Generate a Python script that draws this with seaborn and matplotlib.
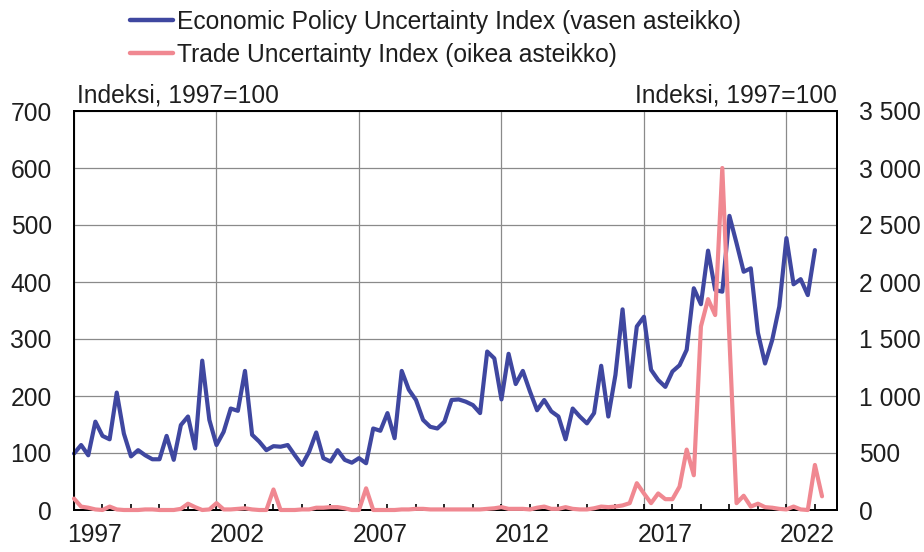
import numpy as np
import pandas as pd
import seaborn as sns
import matplotlib
matplotlib.use("Agg")
import matplotlib.pyplot as plt
from matplotlib.ticker import MultipleLocator, FixedLocator, FuncFormatter
from matplotlib.transforms import ScaledTranslation

# ---------------- data (quarterly, from 1997Q1) ----------------
START_YEAR = 1997
EPU_LABEL = "Economic Policy Uncertainty Index (vasen asteikko)"
TUI_LABEL = "Trade Uncertainty Index (oikea asteikko)"

epu = [
    99, 114, 96, 155, 130, 124, 206, 134, 94, 105, 96, 89, 89, 130, 88, 149,
    164, 108, 262, 158, 114, 137, 178, 174, 244, 132, 120, 105, 112, 111, 114, 96,
    79, 102, 136, 91, 85, 105, 88, 83, 91, 82, 143, 139, 170, 126, 244, 211,
    193, 158, 146, 143, 155, 193, 194, 190, 184, 170, 278, 266, 194, 274, 221, 244,
    208, 175, 193, 173, 164, 124, 178, 164, 152, 170, 253, 164, 237, 352, 216, 322,
    339, 246, 228, 216, 243, 254, 281, 389, 361, 455, 386, 383, 516, 468, 418, 424,
    311, 257, 298, 357, 477, 396, 405, 377, 456,
]

tui = [
    100, 30, 20, 5, 0, 30, 5, 0, 0, 0, 5, 5, 0, 0, 0, 10,
    55, 25, 0, 5, 60, 5, 5, 10, 15, 5, 0, 0, 180, 0, 0, 0,
    5, 5, 20, 20, 25, 25, 15, 0, 0, 190, 0, 0, 0, 0, 5, 5,
    10, 10, 5, 5, 5, 5, 5, 5, 5, 5, 10, 15, 25, 10, 10, 10,
    5, 20, 30, 10, 10, 25, 10, 5, 5, 15, 30, 25, 30, 40, 60, 235,
    145, 60, 145, 95, 95, 205, 530, 305, 1610, 1850, 1710, 3000, 1500, 60, 125, 30,
    55, 25, 20, 10, 5, 30, 5, 0, 395, 120,
]

year_ticks = [1997, 2002, 2007, 2012, 2017, 2022]
left_ticks = [0, 100, 200, 300, 400, 500, 600, 700]
right_ticks = [0, 500, 1000, 1500, 2000, 2500, 3000, 3500]

BLUE = "#3f47a0"
PINK = "#f08891"

df_epu = pd.DataFrame({"t": START_YEAR + np.arange(len(epu)) / 4, "v": epu})
df_tui = pd.DataFrame({"t": START_YEAR + np.arange(len(tui)) / 4, "v": tui})

# ---------------- plot ----------------
sns.set_theme(style="white")
plt.rcParams["font.family"] = ["Liberation Sans", "DejaVu Sans"]
plt.rcParams["axes.unicode_minus"] = False
FS = 17.7

fig = plt.figure(figsize=(9.24, 5.52), dpi=100)
ax = fig.add_axes([74 / 924, 1 - 510 / 552, (837 - 74) / 924, (510 - 111) / 552])
ax2 = ax.twinx()

sns.lineplot(data=df_epu, x="t", y="v", ax=ax, color=BLUE, lw=3.0,
             label=EPU_LABEL, legend=False, clip_on=False, zorder=3)
sns.lineplot(data=df_tui, x="t", y="v", ax=ax2, color=PINK, lw=3.0,
             label=TUI_LABEL, legend=False, clip_on=False, zorder=3)

ax.set_xlim(START_YEAR, START_YEAR + 107.1 / 4)
ax.set_ylim(0, 700)
ax2.set_ylim(0, 3500)

ax.xaxis.set_major_locator(FixedLocator(year_ticks))
ax.xaxis.set_minor_locator(MultipleLocator(1))
ax.set_xticks(year_ticks)
ax.set_xticklabels([str(y) for y in year_ticks])
ax.set_yticks(left_ticks)
ax.set_yticklabels([str(v) for v in left_ticks])
ax2.set_yticks(right_ticks)
ax2.yaxis.set_major_formatter(FuncFormatter(lambda v, p: f"{v:,.0f}".replace(",", " ")))

ax.grid(True, which="major", color="#8a8a8a", lw=0.9)
ax.set_axisbelow(True)
ax.tick_params(axis="x", which="both", direction="in", length=4, width=1.2,
               color="black", bottom=True, labelsize=FS, pad=9, labelcolor="#1e1e1e")
ax.tick_params(axis="y", length=0, labelsize=FS, pad=16, labelcolor="#1e1e1e")
ax2.tick_params(axis="y", length=0, labelsize=FS, pad=16, labelcolor="#1e1e1e")
ax.set_xlabel("")
ax.set_ylabel("")
ax2.set_ylabel("")

# year labels sit in the middle of the year
for lab in ax.get_xticklabels():
    lab.set_transform(lab.get_transform() + ScaledTranslation(0.21, 0, fig.dpi_scale_trans))

for a in (ax, ax2):
    for s in a.spines.values():
        s.set_color("black")
        s.set_linewidth(1.4)

ax.text(0.004, 1.022, "Indeksi, 1997=100", transform=ax.transAxes,
        ha="left", va="baseline", fontsize=FS, color="#1e1e1e")
ax.text(1.0, 1.022, "Indeksi, 1997=100", transform=ax.transAxes,
        ha="right", va="baseline", fontsize=FS, color="#1e1e1e")

h1, l1 = ax.get_legend_handles_labels()
h2, l2 = ax2.get_legend_handles_labels()
leg = fig.legend(h1 + h2, l1 + l2, loc="upper left", bbox_to_anchor=(130 / 924, 1 - 10 / 552),
                 frameon=False, borderpad=0, borderaxespad=0, fontsize=FS,
                 handlelength=1.75, handletextpad=0.15, labelspacing=0.35)
for t in leg.get_texts():
    t.set_color("#1e1e1e")
for line in leg.get_lines():
    line.set_linewidth(3.2)

fig.savefig("out.png", dpi=100)
